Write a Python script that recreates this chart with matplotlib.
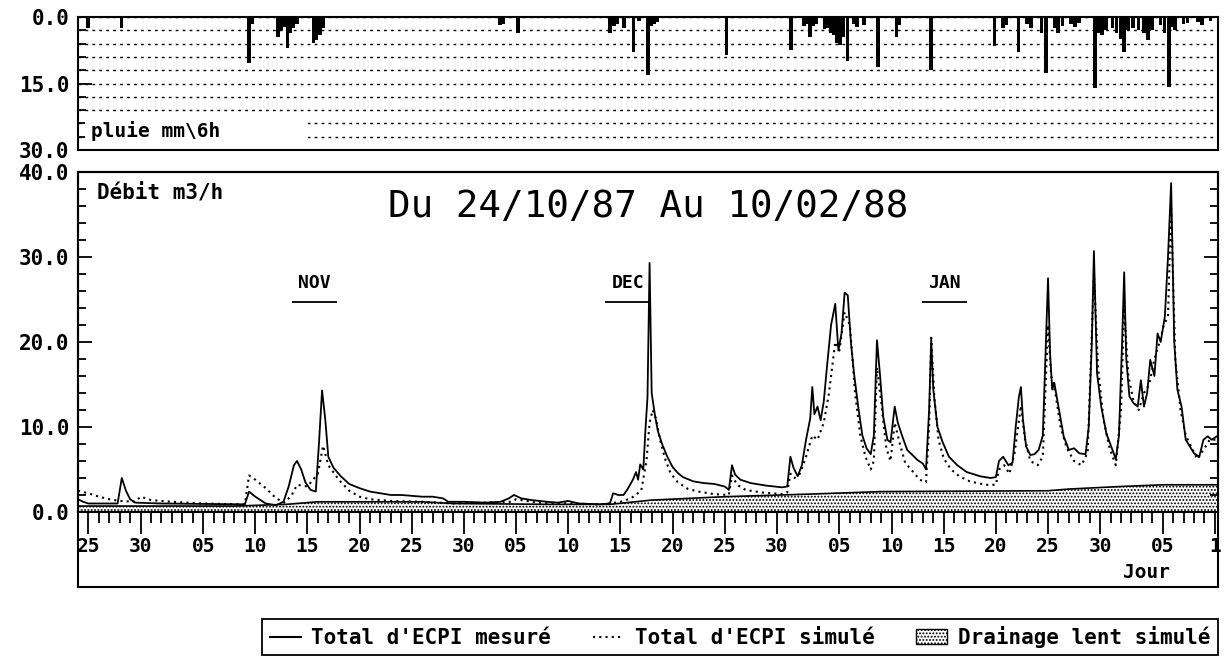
import matplotlib
matplotlib.use('Agg')
import matplotlib.pyplot as plt
from matplotlib.lines import Line2D
from matplotlib.patches import Patch
import numpy as np

plt.rcParams['font.family'] = 'DejaVu Sans Mono'
plt.rcParams['font.weight'] = 'bold'
plt.rcParams['hatch.linewidth'] = 0.9

# Jours comptés depuis le 24/10/87 (0 = 24 oct.)
jours_mesure = [0, 0.5, 1, 3.8, 4.2, 4.6, 5, 5.5, 8, 16, 16.4, 17, 18, 19, 19.7, 20.2, 20.7, 21,
                21.4, 21.8, 22.3, 22.8, 23.1, 23.4, 23.7, 24, 24.5, 25.2, 26, 27, 28, 29, 30, 31,
                32, 33, 34, 35, 35.5, 37, 39, 40.5, 41.3, 41.8, 42.5, 43.5, 45, 46, 47, 48, 50,
                51, 51.3, 51.8, 52.3, 52.7, 53.2, 53.5, 53.7, 53.9, 54.2, 54.4, 54.6, 54.8, 55.0,
                55.3, 55.6, 56, 56.5, 57, 57.5, 58, 59, 60, 61, 62, 62.4, 62.7, 63, 63.5, 64.5,
                66, 67.5, 68, 68.3, 68.6, 69, 69.4, 69.8, 70.2, 70.4, 70.6, 70.9, 71.2, 71.5,
                71.8, 72.2, 72.6, 72.9, 73.2, 73.5, 73.8, 74.1, 74.4, 74.8, 75.2, 75.6, 76,
                76.3, 76.6, 76.9, 77.2, 77.6, 77.9, 78.3, 78.6, 79, 79.5, 80, 80.5, 81, 81.3,
                81.6, 81.8, 82, 82.4, 82.9, 83.5, 84.3, 85.2, 86.5, 87.5, 88, 88.3, 88.7, 89.2,
                89.6, 89.9, 90.2, 90.4, 90.6, 90.9, 91.3, 91.7, 92.1, 92.5, 92.8, 93, 93.2, 93.4,
                93.6, 94, 94.5, 95, 95.5, 96, 96.6, 96.9, 97.2, 97.4, 97.7, 98.1, 98.6, 99, 99.5,
                99.8, 100.1, 100.3, 100.5, 100.8, 101.2, 101.6, 101.9, 102.2, 102.5, 102.8,
                103.2, 103.5, 103.8, 104.2, 104.5, 104.8, 105.1, 105.4, 105.8, 106.2, 106.6,
                107, 107.5, 107.9, 108.3, 108.7, 109.3]
debit_mesure = [1.5, 1.2, 1.0, 1.0, 4.0, 2.5, 1.5, 1.1, 1.0, 0.9, 2.4, 1.8, 1.0, 0.8, 1.2, 3.0, 5.5, 6.0,
                5.0, 3.5, 2.6, 2.4, 8.0, 14.3, 11.0, 6.5, 5.2, 4.2, 3.3, 2.8, 2.4, 2.2, 2.0, 2.0,
                1.9, 1.8, 1.8, 1.6, 1.2, 1.2, 1.1, 1.2, 1.6, 2.0, 1.6, 1.4, 1.2, 1.1, 1.3, 1.0, 0.9,
                1.0, 2.2, 2.0, 2.0, 2.7, 3.8, 4.7, 3.8, 5.6, 5.0, 9.6, 13.5, 29.3, 14.0,
                11.5, 9.5, 8.0, 6.5, 5.3, 4.6, 4.1, 3.6, 3.4, 3.3, 3.0, 2.6, 5.5, 4.4, 3.8, 3.4,
                3.1, 2.9, 3.0, 6.5, 5.2, 4.2, 5.5, 8.5, 11.0, 14.7, 11.5, 12.4, 10.8, 13.0,
                17.0, 22.0, 24.5, 19.0, 21.0, 25.8, 25.5, 20.0, 16.3, 12.4, 9.0, 7.5, 6.8,
                9.0, 20.2, 16.0, 11.2, 8.5, 8.2, 12.4, 10.5, 9.0, 7.3, 6.7, 6.1, 5.7, 5.0,
                12.0, 20.3, 14.4, 10.0, 8.2, 6.5, 5.5, 4.7, 4.2, 4.0, 4.1, 6.0, 6.5, 5.5,
                5.8, 10.0, 13.5, 14.7, 10.8, 7.7, 6.7, 6.8, 7.3, 9.0, 20.0, 27.5, 18.5, 14.4,
                15.2, 12.4, 8.9, 7.3, 7.5, 6.9, 6.8, 10.0, 20.0, 30.7, 16.3, 12.4, 9.2, 7.9, 6.2,
                9.0, 20.0, 28.2, 18.0, 13.6, 12.8, 12.4, 15.5, 12.4, 14.0, 17.9,
                16.0, 21.0, 20.0, 23.0, 30.0, 38.7, 20.0, 14.4, 12.4, 8.5, 7.7,
                6.9, 6.5, 8.5, 8.9, 8.5, 9.0]

jours_simule = [0, 1, 2, 3, 4, 5.5, 6, 7, 9, 12, 16, 16.4, 17, 18, 19, 19.8, 20.5, 21, 22, 23, 23.5,
                24, 25, 26, 27, 28, 30, 33, 36, 41.5, 42, 44, 50, 51, 52, 53, 54, 54.5, 54.8,
                55.1, 55.4, 55.8, 56.3, 56.8, 57.5, 58.5, 59.5, 61, 62.4, 62.7, 63.2, 64, 65.5,
                67.5, 68, 68.3, 68.7, 69.2, 69.8, 70.4, 70.9, 71.5, 72, 72.6, 73, 73.5, 74, 74.5,
                75, 75.5, 76, 76.3, 76.6, 77, 77.5, 77.9, 78.3, 78.8, 79.3, 80, 80.7, 81.3, 81.6,
                81.8, 82.1, 82.5, 83, 83.7, 84.5, 85.5, 87, 88, 88.3, 88.8, 89.3, 89.8, 90.4,
                90.8, 91.3, 92, 92.5, 93, 93.3, 93.7, 94.2, 94.8, 95.5, 96.2, 96.8, 97.4, 97.8,
                98.3, 98.9, 99.5, 100, 100.3, 100.7, 101.2, 101.7, 102.2, 102.7, 103.2, 103.7,
                104.1, 104.5, 104.8, 105.2, 105.7, 106.2, 106.8, 107.3, 108, 108.5, 109.3]
debit_simule = [2.5, 2.2, 1.8, 1.5, 1.3, 1.2, 1.8, 1.4, 1.2, 1.0, 0.9, 4.3, 3.8, 2.8, 1.6, 1.1, 2.0, 3.2,
                3.0, 4.5, 7.8, 5.5, 3.8, 2.5, 1.8, 1.5, 1.3, 1.2, 1.0, 1.2, 1.5, 1.1, 0.9, 1.0, 1.2,
                1.6, 2.5, 6.0, 10.5, 12.0, 11.0, 8.5, 6.2, 4.6, 3.5, 2.7, 2.4, 2.1, 2.0, 4.3, 3.2,
                2.6, 2.3, 2.1, 2.3, 4.5, 4.0, 4.5, 6.5, 9.0, 8.5, 10.5, 14.0, 20.0, 19.0, 23.5,
                22.0, 14.0, 9.0, 6.5, 5.0, 6.0, 17.0, 13.0, 7.5, 6.0, 10.5, 8.0, 5.8, 4.8, 3.8,
                3.5, 10.0, 20.5, 13.5, 8.5, 6.3, 5.0, 4.2, 3.6, 3.2, 3.2, 5.0, 5.5, 4.5, 7.0,
                12.5, 8.5, 6.0, 5.5, 6.5, 22.0, 16.0, 14.0, 10.0, 7.5, 6.0, 5.5, 7.0, 28.0,
                17.0, 11.0, 7.5, 5.5, 12.0, 24.0, 16.0, 13.0, 12.0, 14.0, 15.0, 18.0, 20.0,
                22.0, 23.0, 36.0, 18.0, 12.0, 9.0, 7.5, 6.2, 7.5, 8.5, 8.5]

jours_drainage = [0, 15, 20, 23, 33, 36, 45, 51, 55, 62, 70, 77, 93, 95, 100, 104, 109.3]
drainage_lent = [0.7, 0.7, 0.9, 1.2, 1.2, 1.0, 0.9, 0.9, 1.4, 1.8, 2.1, 2.4, 2.5, 2.7, 3.0, 3.2, 3.2]

# Pluie en mm par pas de 6 h (début du pas, en jours)
jours_pluie = [0.8, 4.0, 16.2, 16.5, 19.0, 19.3, 19.6, 19.9, 20.2, 20.5, 20.8, 22.4, 22.7, 23.0, 23.3,
               40.3, 40.6, 42.0, 50.8, 51.2, 51.5, 52.2, 53.1, 53.6, 54.5, 54.8, 55.1, 55.4, 62.0,
               68.2, 69.4, 69.7, 70.0, 70.3, 70.6, 71.4, 71.7, 72.0, 72.3, 72.6, 72.9, 73.2, 73.6,
               74.2, 74.5, 75.2, 76.5, 78.3, 78.6, 81.6, 87.7, 88.5, 88.8, 90.0, 90.8, 91.2, 92.2,
               92.6, 93.5, 93.8, 94.2, 95.0, 95.4, 95.8, 97.3, 97.6, 98.0, 98.4, 99.0, 99.4, 99.8,
               100.1, 100.5, 101.0, 101.5, 102.0, 102.4, 102.8, 103.6, 104.0, 104.4, 104.7, 105.0,
               105.8, 106.2, 107.2, 107.6, 108.4]
pluie_mm = [2.5, 2.5, 10.4, 1.5, 4.4, 3.0, 2.2, 7.0, 3.6, 2.5, 1.5, 5.9, 5.1, 4.0, 2.5,
            1.7, 1.5, 3.6, 3.6, 2.0, 1.5, 2.5, 7.8, 1.0, 13.0, 2.0, 1.5, 1.2, 8.5,
            7.4, 2.0, 1.5, 4.4, 2.0, 1.5, 2.8, 2.5, 3.6, 4.0, 5.9, 6.2, 4.5, 10.0,
            1.5, 2.2, 1.8, 11.2, 4.4, 1.8, 11.9, 6.6, 2.5, 1.8, 7.8, 1.5, 2.5, 3.6,
            12.7, 2.5, 3.6, 2.0, 1.5, 2.2, 1.3, 16.0, 3.6, 4.0, 3.0, 2.5, 3.5, 5.0,
            7.8, 3.0, 2.5, 3.0, 3.5, 5.1, 3.0, 1.8, 3.6, 15.7, 2.2, 3.0,
            1.5, 1.3, 1.2, 1.8, 1.0]

# Axe des jours
jours_ticks = [1, 6, 12, 17, 22, 27, 32, 37, 42, 47, 52, 57, 62, 67, 73, 78, 83, 88, 93, 98, 104, 109]
labels_ticks = ['25', '30', '05', '10', '15', '20', '25', '30', '05', '10', '15', '20', '25', '30',
                '05', '10', '15', '20', '25', '30', '05', '1']
mois_jours = [22.7, 52.7, 83.1]
mois_noms = ['NOV', 'DEC', 'JAN']

xmax = 109.3

fig = plt.figure(figsize=(12.28, 6.58), dpi=100)
ax_pluie = fig.add_axes([0.0635, 0.7720, 0.9284, 0.2021])
ax_cadre = fig.add_axes([0.0635, 0.1079, 0.9284, 0.6307])
ax = fig.add_axes([0.0635, 0.2219, 0.9284, 0.5167])

# --- Pluie ---
ax_pluie.bar(jours_pluie, pluie_mm, width=0.35, align='edge', color='black', zorder=2)
ax_pluie.set_xlim(0, xmax)
ax_pluie.set_ylim(30, 0)
ax_pluie.set_xticks([])
ax_pluie.set_yticks([0, 15, 30], labels=['0.0', '15.0', '30.0'])
ax_pluie.set_yticks(np.arange(3, 30, 3), minor=True)
ax_pluie.tick_params(axis='y', which='major', direction='in', length=10, width=1.3, labelsize=15, pad=6)
ax_pluie.tick_params(axis='y', which='minor', direction='in', length=6, width=1.3)
ax_pluie.grid(axis='y', which='both', color='black', linestyle=(0, (2, 3)), linewidth=1)
for s in ax_pluie.spines.values():
    s.set_linewidth(1.5)
ax_pluie.text(0.011, 0.145, 'pluie mm\\6h       ', transform=ax_pluie.transAxes, fontsize=14,
              va='center', ha='left', zorder=5,
              bbox=dict(facecolor='white', edgecolor='none', pad=4))

# --- Cadre du graphique de débit ---
ax_cadre.set_xticks([])
ax_cadre.set_yticks([])
for s in ax_cadre.spines.values():
    s.set_linewidth(1.5)

# --- Débit ---
ax.patch.set_visible(False)
ax.fill_between(jours_drainage, 0, drainage_lent, facecolor='white', edgecolor='black',
                hatch='.....', linewidth=0, zorder=1)
ax.plot(jours_drainage, drainage_lent, color='black', lw=1.2, zorder=2)
ax.plot(jours_simule, debit_simule, color='black', lw=1.5, linestyle=(0, (1, 2)), zorder=3)
ax.plot(jours_mesure, debit_mesure, color='black', lw=1.3, zorder=4)

ax.set_xlim(0, xmax)
ax.set_ylim(0, 40)
ax.set_xticks(jours_ticks, labels=labels_ticks)
ax.set_xticks(np.arange(0, 110), minor=True)
ax.tick_params(axis='x', which='major', direction='out', length=16, width=1.3, pad=2, labelsize=14)
ax.tick_params(axis='x', which='minor', direction='out', length=8, width=1.3)
ax.set_yticks([0, 10, 20, 30, 40], labels=['0.0', '10.0', '20.0', '30.0', '40.0'])
ax.set_yticks(np.arange(0, 41, 2), minor=True)
ax.tick_params(axis='y', which='major', direction='in', length=10, width=1.3, labelsize=15,
               pad=6, right=True)
ax.tick_params(axis='y', which='minor', direction='in', length=6, width=1.3, right=True)
for s in ax.spines.values():
    s.set_linewidth(1.5)

ax.text(0.017, 0.941, 'Débit m3/h', transform=ax.transAxes, fontsize=15, va='center', ha='left')
ax.text(0.5, 0.897, 'Du 24/10/87 Au 10/02/88', transform=ax.transAxes, fontsize=27,
        fontweight='normal', va='center', ha='center')

for jour, nom in zip(mois_jours, mois_noms):
    ax.text(jour, 26.9, nom, fontsize=13, ha='center', va='center')
    ax.hlines(24.7, jour - 2.15, jour + 2.15, color='black', lw=1.3)

fig.text(1147 / 1228, 1 - 573 / 658, 'Jour', fontsize=14, ha='center', va='center')

# --- Légende ---
handles = [Line2D([], [], color='black', lw=1.5),
           Line2D([], [], color='black', lw=1.5, linestyle=(0, (1, 2))),
           Patch(facecolor='white', edgecolor='black', hatch='.....', linewidth=1)]
labels = ["Total d'ECPI mesuré", "Total d'ECPI simulé", 'Drainage lent simulé']
leg = fig.legend(handles, labels, loc='center', bbox_to_anchor=(0.6026, 0.032),
                 ncol=3, fancybox=False, edgecolor='black', framealpha=1,
                 fontsize=15, handlelength=1.5, handletextpad=0.5, columnspacing=2.0,
                 borderpad=0.35, borderaxespad=0)
leg.get_frame().set_linewidth(1.3)

fig.savefig('out.png', dpi=100)
